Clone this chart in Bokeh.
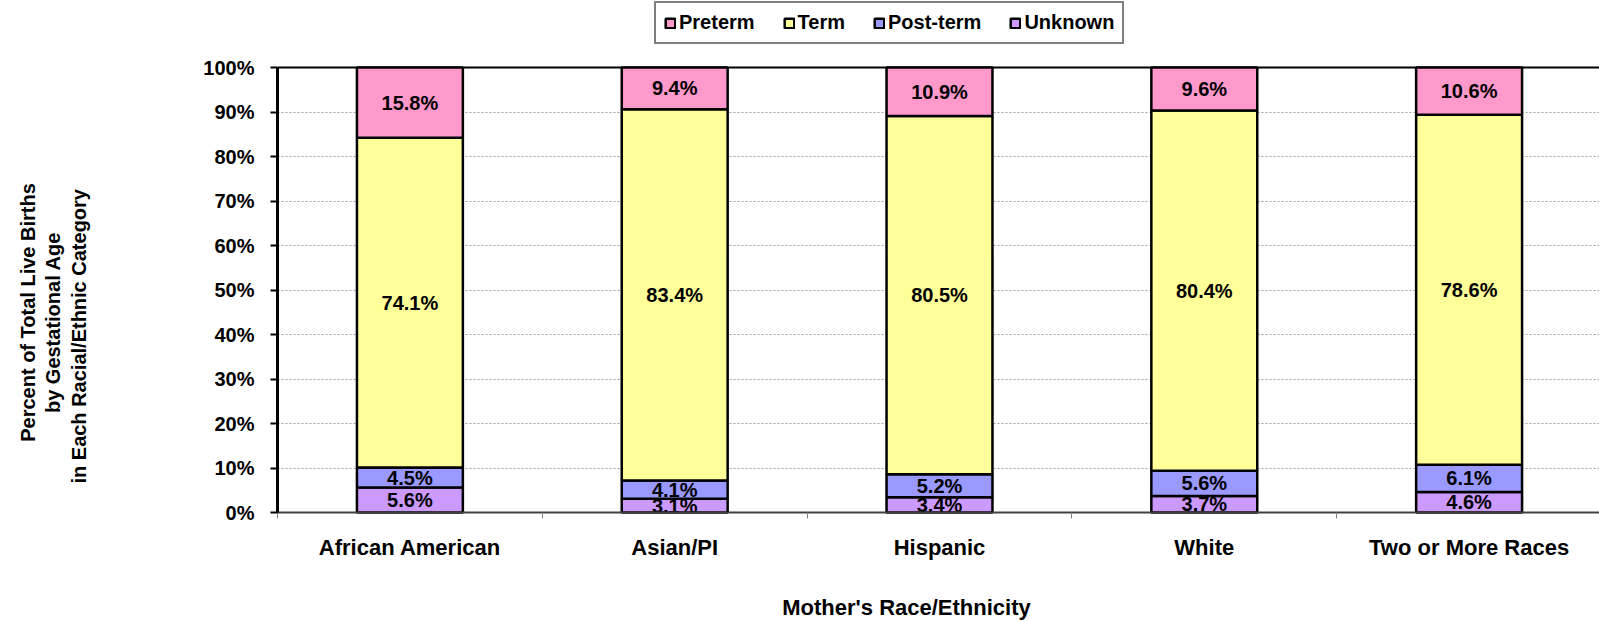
import math
from bokeh.plotting import figure
from bokeh.models import (ColumnDataSource, Range1d, FixedTicker, PrintfTickFormatter,
                          Legend, LegendItem, Label, LinearAxis, Grid)
from bokeh.core.properties import value
from bokeh.embed import file_html
from bokeh.resources import INLINE

# ---- data ----
categories = ["African American", "Asian/PI", "Hispanic", "White", "Two or More Races"]
unknown = [5.6, 3.1, 3.4, 3.7, 4.6]
post_term = [4.5, 4.1, 5.2, 5.6, 6.1]
term = [74.1, 83.4, 80.5, 80.4, 78.6]
preterm = [15.8, 9.4, 10.9, 9.6, 10.6]
series_names = ["Unknown", "Post-term", "Term", "Preterm"]
series_colors = ["#CC99FF", "#9999FF", "#FFFF99", "#FF99CC"]
y_ticks = [0, 10, 20, 30, 40, 50, 60, 70, 80, 90, 100]
y_title_lines = ["Percent of Total Live Births", "by Gestational Age",
                 "in Each Racial/Ethnic  Category"]
x_title = "Mother's Race/Ethnicity"

FONT = "Liberation Sans"
series_values = [unknown, post_term, term, preterm]

# ---- layout (pixels) ----
W, H = 1599, 621
plot_left, plot_bottom = 277, 512      # where the 0/0 corner of the chart sits
cat_px = 264.8                          # pixels per category
pct_px = 4.45                           # pixels per percent

x = [i + 0.5 for i in range(len(categories))]
totals = [sum(vals[i] for vals in series_values) for i in range(len(categories))]
data = {"x": x}
stack_cols = []
for name, vals in zip(series_names, series_values):
    col = name + "_share"
    data[col] = [v / t * 100 for v, t in zip(vals, totals)]   # 100% stacked
    stack_cols.append(col)
src = ColumnDataSource(data)

x_start, x_end = -plot_left / cat_px, (W - plot_left) / cat_px
y_start, y_end = -(H - plot_bottom) / pct_px, plot_bottom / pct_px

p = figure(width=W, height=H,
           x_range=Range1d(x_start, x_end), y_range=Range1d(y_start, y_end),
           x_axis_type=None, y_axis_type=None,
           min_border=0, min_border_left=0, min_border_right=0,
           min_border_top=0, min_border_bottom=0,
           output_backend="svg", toolbar_location=None,
           background_fill_color="white", border_fill_color="white")
p.outline_line_color = None

# grid lines (only over the chart area)
grid = Grid(dimension=1, ticker=FixedTicker(ticks=y_ticks[1:-1]),
            bounds=(0, 100), cross_bounds=(0, x_end),
            grid_line_color="#a0a0a0", grid_line_dash="2 2", grid_line_width=1)
p.add_layout(grid)
top_line = Grid(dimension=1, ticker=FixedTicker(ticks=[y_ticks[-1]]),
                bounds=(0, 100), cross_bounds=(0, x_end),
                grid_line_color="black", grid_line_width=2)
p.add_layout(top_line)

renderers = p.vbar_stack(stack_cols, x="x", width=0.4, source=src,
                         fill_color=series_colors, line_color="black", line_width=2.5)

# data labels centered in each segment
lx, ly, lt = [], [], []
bottoms = [0.0] * len(categories)
for col, vals in zip(stack_cols, series_values):
    for i, v in enumerate(vals):
        share = data[col][i]
        lx.append(x[i])
        ly.append(bottoms[i] + share / 2)
        lt.append(f"{v:.1f}%")
        bottoms[i] += share
p.text(x=lx, y=ly, text=lt, text_font=value(FONT), text_font_style="bold",
       text_font_size="20px", text_color="black", text_align="center",
       text_baseline="middle")

# y axis
ya = LinearAxis(fixed_location=0, bounds=(0, 100))
ya.ticker = FixedTicker(ticks=y_ticks)
ya.formatter = PrintfTickFormatter(format="%d%%")
ya.axis_line_color = "black"
ya.axis_line_width = 3
ya.major_tick_line_color = "black"
ya.major_tick_line_width = 2
ya.major_tick_out = 7
ya.major_tick_in = 0
ya.minor_tick_line_color = None
ya.major_label_standoff = 16
ya.major_label_text_font = FONT
ya.major_label_text_font_style = "bold"
ya.major_label_text_font_size = "20px"
ya.major_label_text_color = "black"
p.add_layout(ya, "left")

# x axis
xa = LinearAxis(fixed_location=0, bounds=(0, x_end))
xa.ticker = FixedTicker(ticks=x, minor_ticks=[0, 1, 2, 3, 4, 5])
xa.major_label_overrides = {xv: c for xv, c in zip(x, categories)}
xa.axis_line_color = "#404040"
xa.axis_line_width = 2
xa.major_tick_line_color = None
xa.major_tick_out = 0
xa.major_tick_in = 0
xa.minor_tick_line_color = "#808080"
xa.minor_tick_out = 6
xa.minor_tick_in = 0
xa.major_label_standoff = 16
xa.major_label_text_font = FONT
xa.major_label_text_font_style = "bold"
xa.major_label_text_font_size = "22px"
xa.major_label_text_color = "black"
p.add_layout(xa, "below")

# x title
p.add_layout(Label(x=(906 - plot_left) / cat_px, y=(plot_bottom - 607) / pct_px,
                   text=x_title, text_font=FONT, text_font_style="bold",
                   text_font_size="22px", text_color="black",
                   text_align="center", text_baseline="middle"))

# y title: three rotated lines
title_px = [(27, 312), (52, 322), (78, 333)]   # pixel centres of each line
for line, (px_x, px_y) in zip(y_title_lines, title_px):
    p.add_layout(Label(x=(px_x - plot_left) / cat_px, y=(plot_bottom - px_y) / pct_px,
                       text=line, angle=math.pi / 2,
                       text_font=FONT, text_font_style="bold", text_font_size="20px",
                       text_color="black", text_align="center", text_baseline="middle"))

# legend
items = [LegendItem(label=n, renderers=[r]) for n, r in zip(series_names, renderers)][::-1]
legend = Legend(items=items, orientation="horizontal", location=(654, 577),
                border_line_color="black", border_line_width=2,
                background_fill_color="white", background_fill_alpha=1,
                glyph_width=12, glyph_height=12, label_standoff=3, spacing=28,
                padding=8, margin=0,
                label_text_font=FONT, label_text_font_style="bold",
                label_text_font_size="20px", label_text_color="black")
p.add_layout(legend, "center")

open("out.html", "w").write(file_html(p, INLINE))
